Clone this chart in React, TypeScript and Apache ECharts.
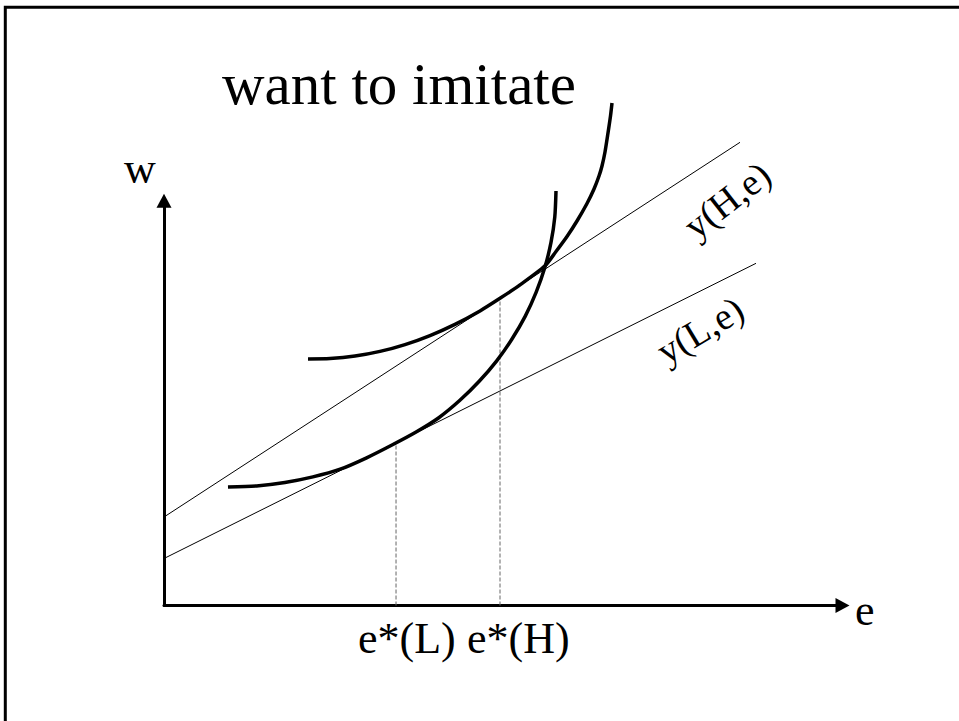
import React, { useEffect, useRef } from "react";
import * as echarts from "echarts";

// ---- data (axis units: e on x, w on y) ----
const eAxisRange = [0, 10];
const wAxisRange = [0, 6];

// straight lines y(H,e) and y(L,e): [e, w] end points
const lineHigh: number[][] = [
  [0, 1.3284],
  [8.5524, 6.9529],
];
const lineLow: number[][] = [
  [0, 0.7055],
  [8.79, 5.1366],
];

// indifference curve touching y(L,e) at e*(L)
const curveLow: number[][] = [
  [0.95, 1.779],
  [1.3749, 1.7953],
  [1.7951, 1.8463],
  [2.2108, 1.9304],
  [2.6162, 2.0459],
  [3.0082, 2.2171],
  [3.3853, 2.4092],
  [3.7431, 2.6043],
  [4.0802, 2.819],
  [4.3935, 3.0802],
  [4.68, 3.3654],
  [4.9399, 3.6731],
  [5.167, 4.0003],
  [5.3645, 4.344],
  [5.5263, 4.7028],
  [5.6541, 5.072],
  [5.7461, 5.4503],
  [5.8025, 5.8346],
  [5.8203, 6.2219],
];

// indifference curve touching y(H,e) at e*(H)
const curveHigh: number[][] = [
  [2.1381, 3.7016],
  [2.4647, 3.7076],
  [2.8359, 3.7444],
  [3.2071, 3.8142],
  [3.5783, 3.917],
  [3.9495, 4.0528],
  [4.3207, 4.221],
  [4.6919, 4.4221],
  [4.9889, 4.6112],
  [5.2858, 4.8124],
  [5.657, 5.0991],
  [5.8203, 5.3137],
  [5.9837, 5.5389],
  [6.1321, 5.7715],
  [6.2806, 6.0342],
  [6.3846, 6.2519],
  [6.4588, 6.447],
  [6.5033, 6.5971],
  [6.5479, 6.8073],
  [6.5924, 7.0925],
  [6.6295, 7.3476],
  [6.6518, 7.5428],
];

const eStar = [3.445, 4.9889]; // e*(L), e*(H)
const wStar = [2.442, 4.6112];

const titleText = "want to imitate";
const xName = "e";
const yName = "w";
const eStarLabels = ["e*(L)", "e*(H)"];
const lineLabels = ["y(H,e)", "y(L,e)"];

const SERIF = "'Liberation Serif', 'Times New Roman', Times, serif";

export default function App() {
  const ref = useRef<HTMLDivElement>(null);

  useEffect(() => {
    if (!ref.current) return;
    const chart = echarts.init(ref.current, null, { renderer: "svg" });

    const thin = { color: "#000", width: 1 };
    const thick = { color: "#000", width: 3.5 };
    const dashed = { color: "#666", width: 1, type: [4, 2] as any };

    const baseLine = {
      type: "line" as const,
      symbol: "none",
      clip: false,
      silent: true,
    };

    const axisCommon = {
      type: "value" as const,
      axisLine: {
        show: true,
        lineStyle: { color: "#000", width: 3 },
        symbol: ["none", "triangle"],
        symbolSize: [15, 14],
        symbolOffset: [0, 5],
      },
      axisTick: { show: false },
      axisLabel: { show: false },
      splitLine: { show: false },
    };

    const txt = (
      text: string,
      x: number,
      y: number,
      size: number,
      extra: any = {}
    ) => ({
      type: "text",
      x,
      y,
      silent: true,
      rotation: extra.rotation || 0,
      style: {
        text,
        fill: "#000",
        font: `${size}px ${SERIF}`,
        textAlign: extra.align || "left",
        textVerticalAlign: "middle",
      },
    });

    chart.setOption({
      animation: false,
      backgroundColor: "#fff",
      grid: {
        left: 164,
        top: 205.8,
        width: 673.5,
        height: 399.7,
        containLabel: false,
      },
      xAxis: { ...axisCommon, min: eAxisRange[0], max: eAxisRange[1] },
      yAxis: { ...axisCommon, min: wAxisRange[0], max: wAxisRange[1] },
      series: [
        { ...baseLine, name: "y(H,e)", data: lineHigh, lineStyle: thin },
        { ...baseLine, name: "y(L,e)", data: lineLow, lineStyle: thin },
        {
          ...baseLine,
          name: "e*(L)",
          data: [
            [eStar[0], 0],
            [eStar[0], wStar[0]],
          ],
          lineStyle: dashed,
        },
        {
          ...baseLine,
          name: "e*(H)",
          data: [
            [eStar[1], 0],
            [eStar[1], wStar[1]],
          ],
          lineStyle: dashed,
        },
        {
          ...baseLine,
          name: "IC low",
          data: curveLow,
          smooth: 0.25,
          lineStyle: thick,
        },
        {
          ...baseLine,
          name: "IC high",
          data: curveHigh,
          smooth: 0.25,
          lineStyle: thick,
        },
      ],
      graphic: [
        {
          type: "rect",
          silent: true,
          shape: { x: 5.3, y: 7.3, width: 1200, height: 1000 },
          style: { fill: "none", stroke: "#000", lineWidth: 3 },
        },
        txt(titleText, 222, 84, 59),
        txt(yName, 124, 168, 44),
        txt(xName, 855, 610, 44),
        txt(eStarLabels[0], 358, 638, 44),
        txt(eStarLabels[1], 467, 638, 44),
        txt(lineLabels[0], 727, 200, 38, {
          align: "center",
          rotation: (38 * Math.PI) / 180,
        }),
        txt(lineLabels[1], 700, 330, 38, {
          align: "center",
          rotation: (31 * Math.PI) / 180,
        }),
      ],
    });

    return () => chart.dispose();
  }, []);

  return (
    <div
      ref={ref}
      style={{
        position: "fixed",
        left: 0,
        top: 0,
        width: 959,
        height: 721,
        background: "#fff",
      }}
    />
  );
}
